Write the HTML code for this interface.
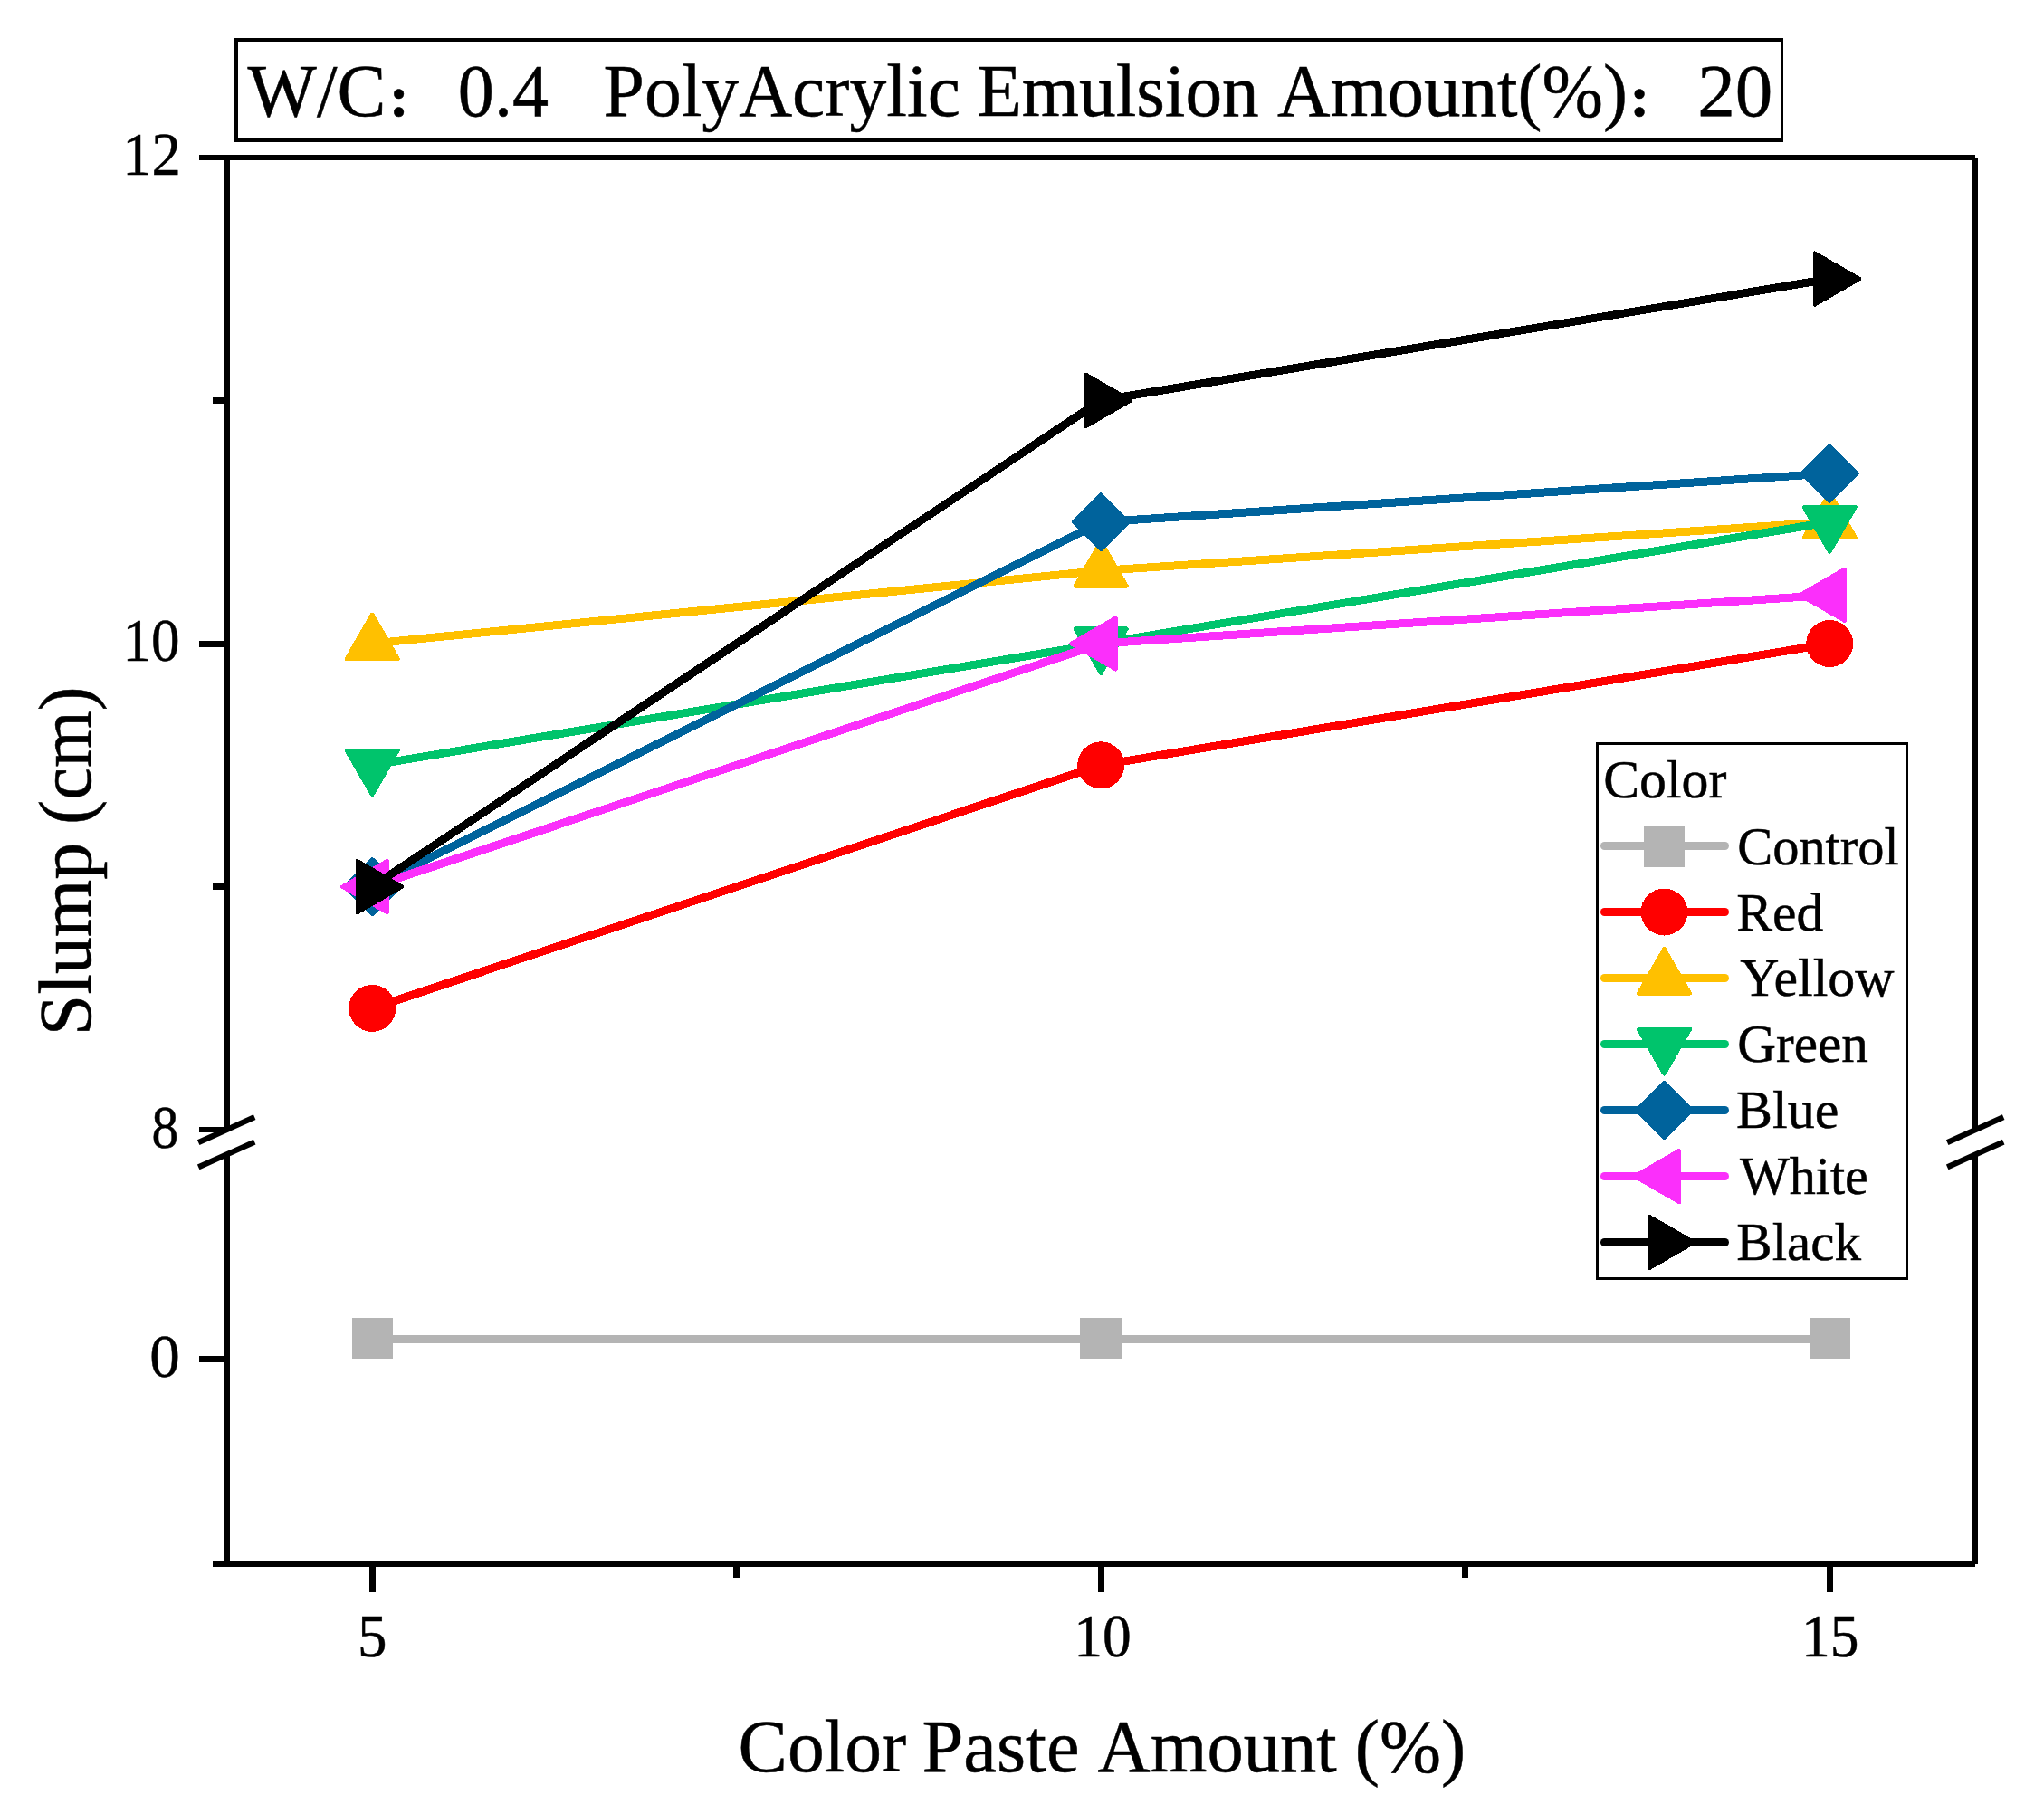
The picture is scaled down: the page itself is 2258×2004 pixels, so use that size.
<!DOCTYPE html>
<html lang="en">
<head>
<meta charset="utf-8">
<title>Slump vs Color Paste Amount</title>
<style>
html,body{margin:0;padding:0;background:#fff;}
body{width:2258px;height:2004px;overflow:hidden;}
svg{display:block;}
text{font-family:"Liberation Serif", "Noto Serif CJK SC", serif;fill:#000;stroke:#000;stroke-width:0.5px;}
.t{font-size:82px;}
.k{font-size:68px;}
.l{font-size:59px;}
.c{font-size:52px;font-weight:900;}
</style>
</head>
<body>
<svg width="2258" height="2004" viewBox="0 0 2258 2004">
<rect x="0" y="0" width="2258" height="2004" fill="#ffffff"/>

<g id="series" shape-rendering="crispEdges" fill="none" stroke-linecap="butt" stroke-linejoin="round">
<g><polyline points="411.2,1479.5 1216.2,1479.5 2021.2,1479.5" stroke="#b4b4b4" stroke-width="9"/>
<rect x="389" y="1456.0" width="45" height="45" fill="#b4b4b4"/>
<rect x="1193" y="1456.0" width="46" height="45" fill="#b4b4b4"/>
<rect x="1999" y="1456.0" width="45" height="45" fill="#b4b4b4"/>
</g>
<g><polyline points="411.2,1113.9 1216.2,845.3 2021.2,711.0" stroke="#ff0000" stroke-width="9"/>
<circle cx="411.2" cy="1113.9" r="26" fill="#ff0000"/>
<circle cx="1216.2" cy="845.3" r="26" fill="#ff0000"/>
<circle cx="2021.2" cy="711.0" r="26" fill="#ff0000"/>
</g>
<g><polyline points="411.2,711.0 1216.2,630.4 2021.2,576.7" stroke="#ffc000" stroke-width="9"/>
<polygon points="411.2,678.8 382.8,728.0 439.6,728.0" fill="#ffc000" stroke="#ffc000" stroke-width="4.4" stroke-linejoin="round"/>
<polygon points="1216.2,598.2 1187.8,647.4 1244.6,647.4" fill="#ffc000" stroke="#ffc000" stroke-width="4.4" stroke-linejoin="round"/>
<polygon points="2021.2,544.5 1992.8,593.7 2049.6,593.7" fill="#ffc000" stroke="#ffc000" stroke-width="4.4" stroke-linejoin="round"/>
</g>
<g><polyline points="411.2,845.3 1216.2,711.0 2021.2,576.7" stroke="#00c46c" stroke-width="9"/>
<polygon points="411.2,878.1 382.8,828.9 439.6,828.9" fill="#00c46c" stroke="#00c46c" stroke-width="4.4" stroke-linejoin="round"/>
<polygon points="1216.2,743.8 1187.8,694.6 1244.6,694.6" fill="#00c46c" stroke="#00c46c" stroke-width="4.4" stroke-linejoin="round"/>
<polygon points="2021.2,609.5 1992.8,560.3 2049.6,560.3" fill="#00c46c" stroke="#00c46c" stroke-width="4.4" stroke-linejoin="round"/>
</g>
<g><polyline points="411.2,979.6 1216.2,576.7 2021.2,523.0" stroke="#00639c" stroke-width="9"/>
<polygon points="411.2,949.3 441.5,979.6 411.2,1009.9 380.9,979.6" fill="#00639c" stroke="#00639c" stroke-width="4.4" stroke-linejoin="round"/>
<polygon points="1216.2,546.4 1246.5,576.7 1216.2,607.0 1185.9,576.7" fill="#00639c" stroke="#00639c" stroke-width="4.4" stroke-linejoin="round"/>
<polygon points="2021.2,492.7 2051.5,523.0 2021.2,553.3 1990.9,523.0" fill="#00639c" stroke="#00639c" stroke-width="4.4" stroke-linejoin="round"/>
</g>
<g><polyline points="411.2,979.6 1216.2,711.0 2021.2,657.3" stroke="#fb2ffb" stroke-width="9"/>
<polygon points="378.4,979.6 427.6,951.2 427.6,1008.0" fill="#fb2ffb" stroke="#fb2ffb" stroke-width="4.4" stroke-linejoin="round"/>
<polygon points="1183.4,711.0 1232.6,682.6 1232.6,739.4" fill="#fb2ffb" stroke="#fb2ffb" stroke-width="4.4" stroke-linejoin="round"/>
<polygon points="1988.4,657.3 2037.6,628.9 2037.6,685.7" fill="#fb2ffb" stroke="#fb2ffb" stroke-width="4.4" stroke-linejoin="round"/>
</g>
<g><polyline points="411.2,979.6 1216.2,442.4 2021.2,308.1" stroke="#000000" stroke-width="9"/>
<polygon points="444.0,979.6 394.8,951.2 394.8,1008.0" fill="#000000" stroke="#000000" stroke-width="4.4" stroke-linejoin="round"/>
<polygon points="1249.0,442.4 1199.8,414.0 1199.8,470.8" fill="#000000" stroke="#000000" stroke-width="4.4" stroke-linejoin="round"/>
<polygon points="2054.0,308.1 2004.8,279.7 2004.8,336.5" fill="#000000" stroke="#000000" stroke-width="4.4" stroke-linejoin="round"/>
</g>
</g>
<g id="axes" fill="#000" shape-rendering="crispEdges">
<rect x="220" y="171" width="1962" height="6"/>
<rect x="235" y="1724" width="1947" height="7"/>
<rect x="247" y="174" width="7" height="1074"/>
<rect x="247" y="1276" width="7" height="455"/>
<rect x="2179" y="174" width="6" height="1074"/>
<rect x="2179" y="1276" width="6" height="452"/>
<rect x="235" y="439" width="12" height="7"/>
<rect x="220" y="708" width="27" height="7"/>
<rect x="235" y="976" width="12" height="7"/>
<rect x="220" y="1245" width="27" height="6"/>
<rect x="220" y="1498" width="27" height="7"/>
<rect x="408" y="1731" width="7" height="28"/>
<rect x="810" y="1731" width="7" height="12"/>
<rect x="1213" y="1731" width="7" height="28"/>
<rect x="1615" y="1731" width="7" height="12"/>
<rect x="2018" y="1731" width="7" height="28"/>
</g>
<g id="breaks" stroke="#000" stroke-width="6.2" stroke-linecap="butt">
<line x1="219.2" y1="1262.10" x2="281.2" y2="1234.20"/>
<line x1="219.2" y1="1289.45" x2="281.2" y2="1261.55"/>
<line x1="2151.2" y1="1262.10" x2="2213.2" y2="1234.20"/>
<line x1="2151.2" y1="1289.45" x2="2213.2" y2="1261.55"/>
</g>
<g id="ticklabels">
<text class="k" x="135.2" y="192.8" textLength="64.5" lengthAdjust="spacingAndGlyphs">12</text>
<text class="k" x="135.4" y="730.0" textLength="63.0" lengthAdjust="spacingAndGlyphs">10</text>
<text class="k" x="167.5" y="1268.0" textLength="29.7" lengthAdjust="spacingAndGlyphs">8</text>
<text class="k" x="165.2" y="1521.0" textLength="33.5" lengthAdjust="spacingAndGlyphs">0</text>
<text class="k" x="395.0" y="1830.0" textLength="32.5" lengthAdjust="spacingAndGlyphs">5</text>
<text class="k" x="1186.2" y="1830.0" textLength="63.4" lengthAdjust="spacingAndGlyphs">10</text>
<text class="k" x="1990.1" y="1830.0" textLength="63.5" lengthAdjust="spacingAndGlyphs">15</text>
</g>
<text class="t" y="1956.5"><tspan x="815.6" textLength="185.5" lengthAdjust="spacingAndGlyphs">Color</tspan> <tspan x="1018.5" textLength="174.1" lengthAdjust="spacingAndGlyphs">Paste</tspan> <tspan x="1212.5" textLength="264.2" lengthAdjust="spacingAndGlyphs">Amount</tspan> <tspan x="1496.7" textLength="122.4" lengthAdjust="spacingAndGlyphs">(%)</tspan></text>
<text class="t" transform="translate(100 1138.7) rotate(-90)" y="0"><tspan x="-5.5" textLength="213.4" lengthAdjust="spacingAndGlyphs">Slump</tspan> <tspan x="228.0" textLength="152.3" lengthAdjust="spacingAndGlyphs">(cm)</tspan></text>
<g fill="#000" shape-rendering="crispEdges">
<rect x="259" y="42" width="1711" height="4"/>
<rect x="259" y="153" width="1711" height="4"/>
<rect x="259" y="42" width="4" height="115"/>
<rect x="1967" y="42" width="3" height="115"/>
</g>
<text class="t" y="128"><tspan x="273.6" y="128" textLength="152.8" lengthAdjust="spacingAndGlyphs">W/C</tspan><tspan class="c" x="425.7" y="130">：</tspan><tspan x="505.8" y="128" textLength="100.2" lengthAdjust="spacingAndGlyphs">0.4</tspan> <tspan x="666.5" y="128" textLength="394.4" lengthAdjust="spacingAndGlyphs">PolyAcrylic</tspan> <tspan x="1079.2" y="128" textLength="311.5" lengthAdjust="spacingAndGlyphs">Emulsion</tspan> <tspan x="1411.1" y="128" textLength="386.8" lengthAdjust="spacingAndGlyphs">Amount(%)</tspan><tspan class="c" x="1796.3" y="130">：</tspan><tspan x="1875.3" y="128" textLength="83.1" lengthAdjust="spacingAndGlyphs">20</tspan></text>
<g fill="#000" shape-rendering="crispEdges">
<rect x="1763" y="820" width="345" height="3"/>
<rect x="1763" y="1411" width="345" height="3"/>
<rect x="1763" y="820" width="3" height="594"/>
<rect x="2105" y="820" width="3" height="594"/>
</g>
<text class="l" x="1771.2" y="881.2" textLength="136.2" lengthAdjust="spacingAndGlyphs">Color</text>
<g id="legend" shape-rendering="crispEdges">
<line x1="1772.5" y1="934.5" x2="1905.5" y2="934.5" stroke="#b4b4b4" stroke-width="9" stroke-linecap="round" shape-rendering="geometricPrecision"/>
<rect x="1816.0" y="912.0" width="45" height="46" rx="1" fill="#b4b4b4"/>
<text class="l" x="1919.2" y="954.6" textLength="178.6" lengthAdjust="spacingAndGlyphs">Control</text>
<line x1="1772.5" y1="1007.5" x2="1905.5" y2="1007.5" stroke="#ff0000" stroke-width="9" stroke-linecap="round" shape-rendering="geometricPrecision"/>
<circle cx="1838.5" cy="1007.5" r="26" fill="#ff0000"/>
<text class="l" x="1918.3" y="1027.6" textLength="96.0" lengthAdjust="spacingAndGlyphs">Red</text>
<line x1="1772.5" y1="1080.5" x2="1905.5" y2="1080.5" stroke="#ffc000" stroke-width="9" stroke-linecap="round" shape-rendering="geometricPrecision"/>
<polygon points="1838.5,1048.3 1810.1,1097.5 1866.9,1097.5" fill="#ffc000" stroke="#ffc000" stroke-width="4.4" stroke-linejoin="round"/>
<text class="l" x="1922.3" y="1100.4" textLength="170.2" lengthAdjust="spacingAndGlyphs">Yellow</text>
<line x1="1772.5" y1="1153.5" x2="1905.5" y2="1153.5" stroke="#00c46c" stroke-width="9" stroke-linecap="round" shape-rendering="geometricPrecision"/>
<polygon points="1838.5,1186.3 1810.1,1137.1 1866.9,1137.1" fill="#00c46c" stroke="#00c46c" stroke-width="4.4" stroke-linejoin="round"/>
<text class="l" x="1919.2" y="1173.4" textLength="144.6" lengthAdjust="spacingAndGlyphs">Green</text>
<line x1="1772.5" y1="1226.5" x2="1905.5" y2="1226.5" stroke="#00639c" stroke-width="9" stroke-linecap="round" shape-rendering="geometricPrecision"/>
<polygon points="1838.5,1196.2 1868.8,1226.5 1838.5,1256.8 1808.2,1226.5" fill="#00639c" stroke="#00639c" stroke-width="4.4" stroke-linejoin="round"/>
<text class="l" x="1918.0" y="1245.8" textLength="113.4" lengthAdjust="spacingAndGlyphs">Blue</text>
<line x1="1772.5" y1="1299.5" x2="1905.5" y2="1299.5" stroke="#fb2ffb" stroke-width="9" stroke-linecap="round" shape-rendering="geometricPrecision"/>
<polygon points="1805.7,1299.5 1854.9,1271.1 1854.9,1327.9" fill="#fb2ffb" stroke="#fb2ffb" stroke-width="4.4" stroke-linejoin="round"/>
<text class="l" x="1921.9" y="1319.2" textLength="142.0" lengthAdjust="spacingAndGlyphs">White</text>
<line x1="1772.5" y1="1372.5" x2="1905.5" y2="1372.5" stroke="#000000" stroke-width="9" stroke-linecap="round" shape-rendering="geometricPrecision"/>
<polygon points="1871.3,1372.5 1822.1,1344.1 1822.1,1400.9" fill="#000000" stroke="#000000" stroke-width="4.4" stroke-linejoin="round"/>
<text class="l" x="1918.3" y="1392.0" textLength="137.7" lengthAdjust="spacingAndGlyphs">Black</text>
</g>
</svg>
</body>
</html>
